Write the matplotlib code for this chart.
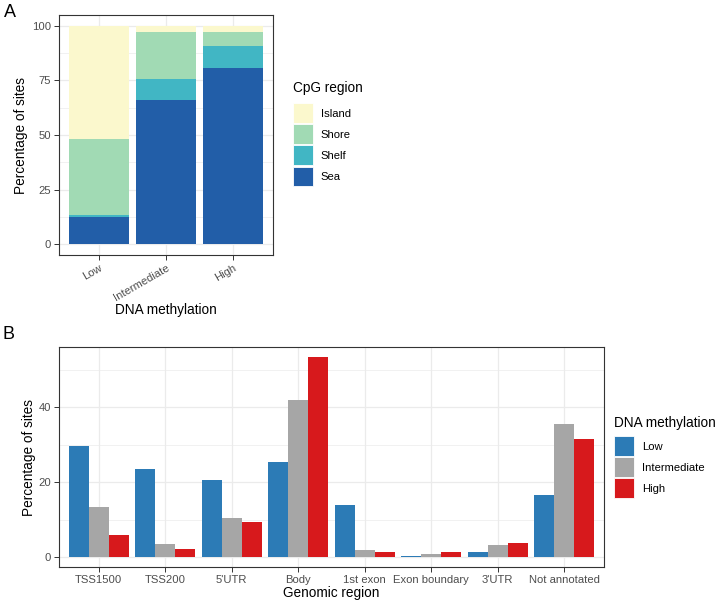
import matplotlib
matplotlib.use('Agg')
import matplotlib.pyplot as plt
import numpy as np
from matplotlib.patches import Rectangle
from matplotlib.ticker import MultipleLocator

plt.rcParams['font.family'] = ['Liberation Sans', 'DejaVu Sans']

# panel A: CpG region composition per methylation level (stacked, %)
meth_levels = ['Low', 'Intermediate', 'High']
cpg_regions = ['Sea', 'Shelf', 'Shore', 'Island']
sea = [12.2, 66.1, 80.9]
shelf = [1.1, 9.4, 9.8]
shore = [34.7, 21.6, 6.7]
island = [52.0, 2.9, 2.6]
cpg_colors = ['#225ea8', '#41b6c4', '#a1dab4', '#fbf8cd']

# panel B: genomic region per methylation level (%)
genomic_regions = ['TSS1500', 'TSS200', "5'UTR", 'Body', '1st exon',
                   'Exon boundary', "3'UTR", 'Not annotated']
low = [29.7, 23.6, 20.6, 25.5, 14.0, 0.2, 1.4, 16.5]
intermediate = [13.5, 3.5, 10.5, 42.0, 2.0, 0.8, 3.3, 35.7]
high = [5.9, 2.2, 9.4, 53.5, 1.3, 1.3, 3.7, 31.6]
meth_colors = ['#2c7bb6', '#a6a6a6', '#d7191c']

TICK_FS = 8.1
TITLE_FS = 9.8
GRID = '#ebebeb'

fig = plt.figure(figsize=(7.16, 6.04), dpi=100)
W, H = 716, 604


def px_axes(left, top, right, bottom):
    return fig.add_axes([left / W, 1 - bottom / H, (right - left) / W, (bottom - top) / H])


def style_axes(ax):
    ax.set_facecolor('white')
    for s in ax.spines.values():
        s.set_color('#333333')
        s.set_linewidth(0.8)
    ax.grid(True, which='major', color=GRID, linewidth=0.9)
    ax.grid(True, which='minor', axis='y', color=GRID, linewidth=0.5)
    ax.set_axisbelow(True)
    ax.tick_params(axis='both', which='major', length=3.5, width=0.7,
                   color='#333333', labelsize=TICK_FS, labelcolor='#4d4d4d', pad=2)
    ax.tick_params(axis='both', which='minor', length=0)


def draw_legend(x, title_y, key_top, title, labels, colors):
    # ggplot-like legend drawn in pixel coordinates
    fig.text(x / W, 1 - title_y / H, title, fontsize=TITLE_FS, va='baseline', ha='left')
    key, step = 19.8, 21.2
    for i, (lab, col) in enumerate(zip(labels, colors)):
        top = key_top + i * step
        fig.add_artist(Rectangle((x / W, 1 - (top + key) / H), key / W, key / H,
                                 transform=fig.transFigure, facecolor=col,
                                 edgecolor='white', linewidth=0.6))
        fig.text((x + key + 8) / W, 1 - (top + key / 2) / H, lab,
                 fontsize=TICK_FS, va='center_baseline', ha='left')


# ---- panel A
axA = px_axes(59, 15, 273, 255)
style_axes(axA)
x = np.arange(1, len(meth_levels) + 1)
bottom = np.zeros(len(meth_levels))
for vals, col in zip([sea, shelf, shore, island], cpg_colors):
    axA.bar(x, vals, width=0.9, bottom=bottom, color=col, linewidth=0)
    bottom += np.array(vals)
axA.set_xlim(0.4, 3.6)
axA.set_ylim(-5, 105)
axA.set_xticks(x)
axA.set_xticklabels(meth_levels, rotation=30, ha='right', rotation_mode='anchor')
axA.yaxis.set_major_locator(MultipleLocator(25))
axA.yaxis.set_minor_locator(MultipleLocator(12.5))
axA.set_ylabel('Percentage of sites', fontsize=TITLE_FS)
axA.yaxis.set_label_coords((27.5 - 59) / 214, 0.5)
axA.set_xlabel('DNA methylation', fontsize=TITLE_FS, labelpad=0)

draw_legend(293, 92, 103, 'CpG region', cpg_regions[::-1], cpg_colors[::-1])

# ---- panel B
axB = px_axes(59, 347, 604, 567)
style_axes(axB)
xb = np.arange(1, len(genomic_regions) + 1)
w = 0.3
for i, (vals, col) in enumerate(zip([low, intermediate, high], meth_colors)):
    axB.bar(xb + (i - 1) * w, vals, width=w, color=col, linewidth=0)
axB.set_xlim(0.4, 8.6)
axB.set_ylim(-0.05 * 53.5, 53.5 * 1.05)
axB.set_xticks(xb)
axB.set_xticklabels(genomic_regions)
axB.yaxis.set_major_locator(MultipleLocator(20))
axB.yaxis.set_minor_locator(MultipleLocator(10))
axB.set_ylabel('Percentage of sites', fontsize=TITLE_FS)
axB.yaxis.set_label_coords((35.5 - 59) / 545, 0.5)
axB.set_xlabel('Genomic region', fontsize=TITLE_FS, labelpad=1)

draw_legend(614, 427, 436, 'DNA methylation', meth_levels, meth_colors)

fig.text(4 / W, 1 - 4 / H, 'A', fontsize=13, va='top', ha='left')
fig.text(3 / W, 1 - 326 / H, 'B', fontsize=13, va='top', ha='left')

fig.savefig('out.png', dpi=100)
